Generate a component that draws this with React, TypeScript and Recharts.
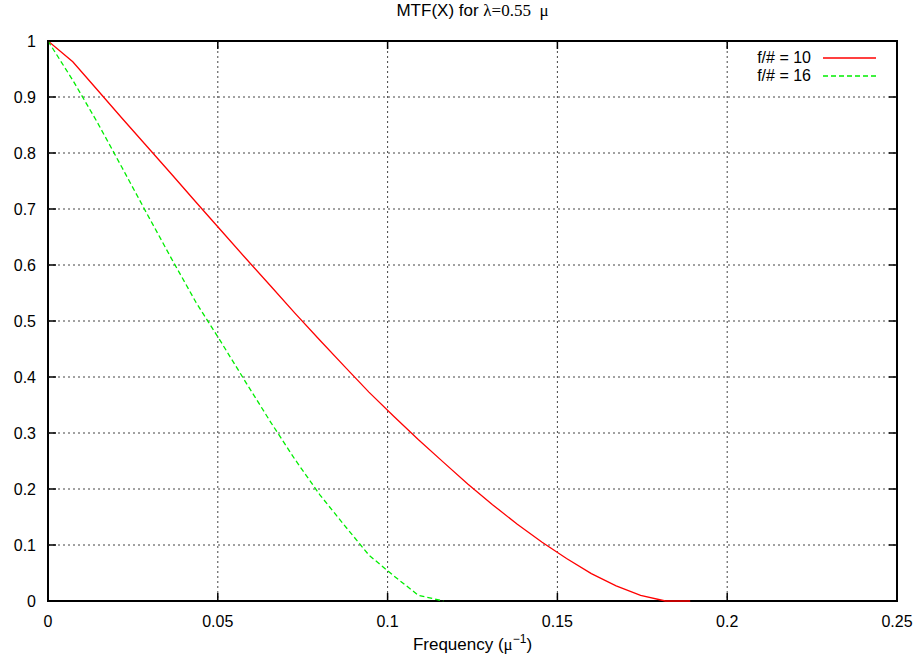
import { LineChart, Line, XAxis, YAxis, CartesianGrid } from "recharts";

// frequency samples (1/micron) and MTF values
const freqRed = [
  0, 0.0073, 0.0145, 0.0218, 0.0291, 0.0364, 0.0436, 0.0509, 0.0582, 0.0655, 0.0727, 0.08, 0.0873, 0.0945,
  0.1018, 0.1091, 0.1164, 0.1236, 0.1309, 0.1382, 0.1455, 0.1527, 0.16, 0.1673, 0.1745, 0.1818, 0.1891,
];
const mtfRed = [
  1, 0.963, 0.913, 0.862, 0.812, 0.762, 0.712, 0.662, 0.612, 0.563, 0.514, 0.466, 0.419, 0.373,
  0.33, 0.288, 0.248, 0.209, 0.172, 0.137, 0.105, 0.076, 0.049, 0.027, 0.01, 0.0, 0.0,
];
const freqGreen = [
  0, 0.0073, 0.0145, 0.0218, 0.0291, 0.0364, 0.0436, 0.0509, 0.0582, 0.0655, 0.0727, 0.08, 0.0873, 0.0945,
  0.1018, 0.1091, 0.1164,
];
const mtfGreen = [
  1, 0.93, 0.855, 0.774, 0.692, 0.611, 0.533, 0.463, 0.391, 0.32, 0.253, 0.19, 0.135, 0.082, 0.045, 0.01, 0.0,
];

const xTicks = [0, 0.05, 0.1, 0.15, 0.2, 0.25];
const xTickLabels = ["0", "0.05", "0.1", "0.15", "0.2", "0.25"];
const yTicks = [0, 0.1, 0.2, 0.3, 0.4, 0.5, 0.6, 0.7, 0.8, 0.9, 1];
const yTickLabels = ["0", "0.1", "0.2", "0.3", "0.4", "0.5", "0.6", "0.7", "0.8", "0.9", "1"];
const seriesNames = ["f/# = 10", "f/# = 16"];

const red = freqRed.map((x, i) => ({ x, y: mtfRed[i] }));
const green = freqGreen.map((x, i) => ({ x, y: mtfGreen[i] }));

const W = 921;
const H = 664;
const LEFT = 48;
const RIGHT = 897;
const TOP = 41;
const BOTTOM = 601;
const TICK = 8;
const FONT = "'Liberation Sans', Arial, sans-serif";
const GREEK = "'Liberation Serif', 'DejaVu Serif', serif";

// label plus inward tick marks on bottom and (mirrored) top border
function XTick(props: any) {
  const { x, payload } = props;
  const i = xTicks.indexOf(payload.value);
  return (
    <g>
      <path d={`M${x},${BOTTOM}v${-TICK}M${x},${TOP}v${TICK}`} stroke="#000" strokeWidth={1.5} fill="none" />
      <text x={x} y={BOTTOM + 26} textAnchor="middle" fontSize={16} fontFamily={FONT} fill="#000">
        {xTickLabels[i]}
      </text>
    </g>
  );
}

function YTick(props: any) {
  const { y, payload } = props;
  const i = yTicks.indexOf(payload.value);
  return (
    <g>
      <path d={`M${LEFT},${y}h${TICK}M${RIGHT},${y}h${-TICK}`} stroke="#000" strokeWidth={1.5} fill="none" />
      <text x={36} y={y + 6} textAnchor="end" fontSize={16} fontFamily={FONT} fill="#000">
        {yTickLabels[i]}
      </text>
    </g>
  );
}

function KeyBox() {
  const rows = [
    { name: seriesNames[0], color: "#ff0000", dash: undefined },
    { name: seriesNames[1], color: "#00ee00", dash: "5 3" },
  ];
  return (
    <div
      style={{
        position: "absolute",
        top: 49,
        left: 640,
        width: 237,
        fontFamily: FONT,
        fontSize: 16,
        color: "#000",
      }}
    >
      {rows.map((r) => (
        <div key={r.name} style={{ display: "flex", alignItems: "center", height: 18, justifyContent: "flex-end" }}>
          <span style={{ lineHeight: "18px" }}>{r.name}</span>
          <svg width={54} height={18} style={{ marginLeft: 12 }}>
            <line x1={0} x2={53} y1={9} y2={9} stroke={r.color} strokeWidth={1.3} strokeDasharray={r.dash} />
          </svg>
        </div>
      ))}
    </div>
  );
}

export default function App() {
  return (
    <div style={{ position: "absolute", left: 0, top: 0, width: W, height: H, background: "#fff" }}>
      {/* plot border, painted under the chart so the curves stay on top */}
      <div
        style={{
          position: "absolute",
          left: LEFT - 1,
          top: TOP - 1,
          width: RIGHT - LEFT + 2,
          height: BOTTOM - TOP + 2,
          boxSizing: "border-box",
          border: "2px solid #000",
          pointerEvents: "none",
        }}
      />
      <LineChart
        width={W}
        height={H}
        margin={{ top: TOP, right: W - RIGHT, bottom: H - BOTTOM - 40, left: 0 }}
      >
        <CartesianGrid
          stroke="#444"
          strokeDasharray="2 3"
          strokeWidth={1}
          horizontalValues={[0.1, 0.2, 0.3, 0.4, 0.5, 0.6, 0.7, 0.8, 0.9]}
          verticalValues={[0.05, 0.1, 0.15, 0.2]}
        />
        <XAxis
          dataKey="x"
          type="number"
          domain={[0, 0.25]}
          ticks={xTicks}
          height={40}
          axisLine={false}
          tickLine={false}
          tick={<XTick />}
          allowDataOverflow
        />
        <YAxis
          type="number"
          domain={[0, 1]}
          ticks={yTicks}
          width={LEFT}
          axisLine={false}
          tickLine={false}
          tick={<YTick />}
        />
        <Line
          data={red}
          dataKey="y"
          name={seriesNames[0]}
          type="linear"
          stroke="#ff0000"
          strokeWidth={1.3}
          dot={false}
          isAnimationActive={false}
        />
        <Line
          data={green}
          dataKey="y"
          name={seriesNames[1]}
          type="linear"
          stroke="#00ee00"
          strokeWidth={1.3}
          strokeDasharray="5 3"
          dot={false}
          isAnimationActive={false}
        />
      </LineChart>
      <div
        style={{
          position: "absolute",
          top: 1,
          left: 0,
          width: LEFT + RIGHT,
          textAlign: "center",
          fontFamily: FONT,
          fontSize: 17,
        }}
      >
        MTF(X) for <span style={{ fontFamily: GREEK }}>λ=0.55&nbsp;&nbsp;μ</span>
      </div>
      <KeyBox />
      <div
        style={{
          position: "absolute",
          top: 632,
          left: 0,
          width: LEFT + RIGHT,
          textAlign: "center",
          fontFamily: FONT,
          fontSize: 17,
        }}
      >
        Frequency (<span style={{ fontFamily: GREEK }}>μ</span>
        <sup style={{ fontSize: 12 }}>−1</sup>)
      </div>
    </div>
  );
}
